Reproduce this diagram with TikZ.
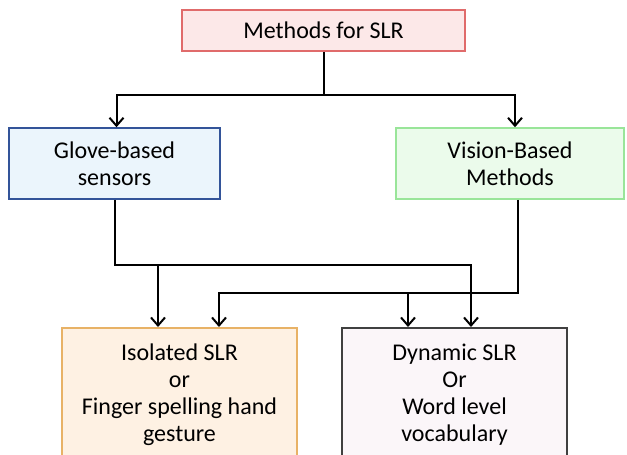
\documentclass[tikz,border=0pt]{standalone}
\usepackage{fontspec}
\setmainfont{Carlito}
\usetikzlibrary{arrows.meta}
\newlength{\du}
\setlength{\du}{0.75pt}

\begin{document}
\begin{tikzpicture}[x=\du,y=-\du,
  box/.style={draw,line width=1.5\du,align=center,inner sep=0pt,
    font=\fontsize{18}{20.3}\selectfont},
  link/.style={draw,line width=2\du},
  arrow/.style={link,-{Straight Barb[length=6pt,width=10.5pt,line width=1.5pt]}}]
\useasboundingbox (0,0) rectangle (627,454);
\definecolor{redline}{rgb}{0.880000, 0.420000, 0.420000}
\definecolor{redfill}{rgb}{0.990000, 0.910000, 0.910000}
\definecolor{blueline}{rgb}{0.200000, 0.330000, 0.600000}
\definecolor{bluefill}{rgb}{0.920000, 0.960000, 0.990000}
\definecolor{greenline}{rgb}{0.600000, 0.900000, 0.600000}
\definecolor{greenfill}{rgb}{0.920000, 0.985000, 0.920000}
\definecolor{orangeline}{rgb}{0.910000, 0.700000, 0.400000}
\definecolor{orangefill}{rgb}{0.995000, 0.945000, 0.890000}
\definecolor{grayline}{rgb}{0.250000, 0.250000, 0.250000}
\definecolor{grayfill}{rgb}{0.985000, 0.965000, 0.975000}
% boxes
\node[box,draw=redline,fill=redfill,minimum width=283\du,minimum height=41\du]
  (methods) at (323.5,30.5) {Methods for SLR};
\node[box,draw=blueline,fill=bluefill,minimum width=211\du,minimum height=71\du]
  (glove) at (114.5,163.5) {Glove-based\\sensors};
\node[box,draw=greenline,fill=greenfill,minimum width=228\du,minimum height=71\du]
  (vision) at (510,163.5) {Vision-Based\\Methods};
\node[box,draw=orangeline,fill=orangefill,minimum width=235\du,minimum height=134\du,
  anchor=north] (isolated) at (179.5,327) {Isolated SLR\\or\\Finger spelling hand\\gesture};
\node[box,draw=grayline,fill=grayfill,minimum width=225\du,minimum height=134\du,
  anchor=north] (dynamic) at (454.5,327) {Dynamic SLR\\Or\\Word level\\vocabulary};
% connectors
\coordinate (split) at (323.5,95);
\coordinate (gbus) at (471,265);
\coordinate (gtap) at (158,265);
\coordinate (vbus) at (219,293);
\coordinate (vtap) at (408,293);
\draw[link] (methods.south) -- (split);
\draw[arrow] (split) -| ([xshift=1.5pt]glove.north);
\draw[arrow] (split) -| ([xshift=3.75pt]vision.north);
\draw[arrow] (glove.south) |- (gbus) -- (gbus |- dynamic.north);
\draw[arrow] (gtap) -- (gtap |- isolated.north);
\draw[arrow] ([xshift=6pt]vision.south) |- (vbus) -- (vbus |- isolated.north);
\draw[arrow] (vtap) -- (vtap |- dynamic.north);
\end{tikzpicture}
\end{document}
